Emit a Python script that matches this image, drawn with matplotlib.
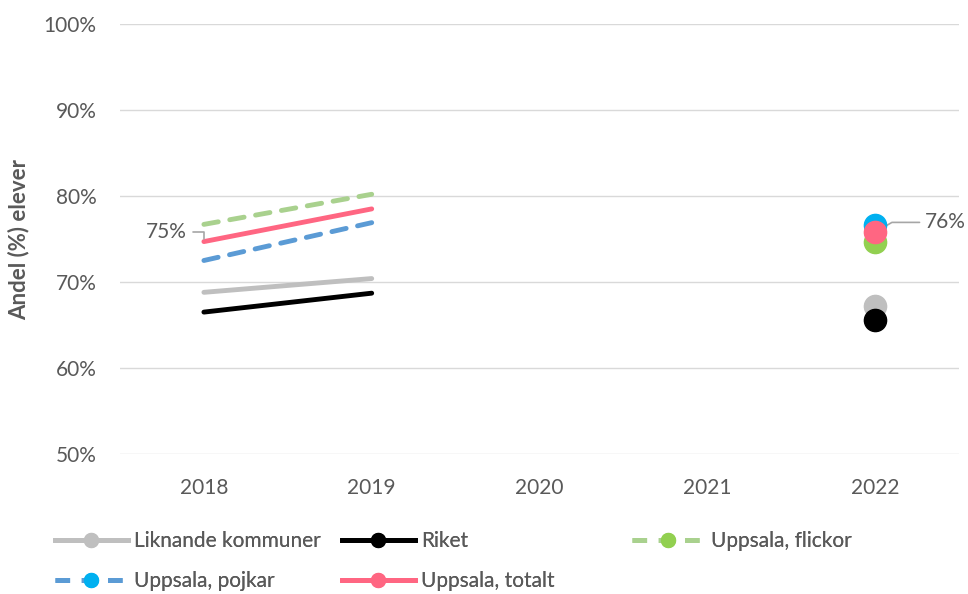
import matplotlib.pyplot as plt
from matplotlib.lines import Line2D

plt.rcParams['font.family'] = ['Lato', 'DejaVu Sans']

years = ['2018', '2019', '2020', '2021', '2022']
series = ['Liknande kommuner', 'Riket', 'Uppsala, flickor', 'Uppsala, pojkar', 'Uppsala, totalt']
early = {  # 2018, 2019
    'Liknande kommuner': [68.8, 70.4],
    'Riket': [66.5, 68.7],
    'Uppsala, flickor': [76.7, 80.2],
    'Uppsala, pojkar': [72.5, 76.9],
    'Uppsala, totalt': [74.7, 78.5],
}
last = {  # 2022
    'Liknande kommuner': 67.2,
    'Riket': 65.6,
    'Uppsala, flickor': 74.6,
    'Uppsala, pojkar': 76.6,
    'Uppsala, totalt': 75.8,
}

line_col = {'Liknande kommuner': '#BFBFBF', 'Riket': '#000000', 'Uppsala, flickor': '#A9D18E',
            'Uppsala, pojkar': '#5B9BD5', 'Uppsala, totalt': '#FF6682'}
mark_col = {'Liknande kommuner': '#BFBFBF', 'Riket': '#000000', 'Uppsala, flickor': '#92D050',
            'Uppsala, pojkar': '#00B0F0', 'Uppsala, totalt': '#FF6682'}
dashed = {'Uppsala, flickor', 'Uppsala, pojkar'}
txt = '#595959'
fs = 15

fig = plt.figure(figsize=(9.68, 5.94), dpi=100)
ax = fig.add_axes([120 / 968, 1 - 454 / 594, 839 / 968, 430 / 594])

x = list(range(len(years)))
handles = {}
draw_order = ['Liknande kommuner', 'Riket', 'Uppsala, pojkar', 'Uppsala, flickor', 'Uppsala, totalt']
for name in draw_order:
    ls = (0, (3.0, 2.4)) if name in dashed else '-'
    ax.plot(x[:2], early[name], color=line_col[name], lw=3.5, ls=ls,
            solid_capstyle='round', dash_capstyle='round', zorder=3)
    ax.plot(x[4], last[name], 'o', color=mark_col[name], ms=16, zorder=4)
    handles[name] = Line2D([], [], color=line_col[name], lw=3.5, ls=ls, marker='o',
                           markersize=10, markerfacecolor=mark_col[name],
                           markeredgecolor=mark_col[name])

ax.set_xlim(-0.5, 4.5)
ax.set_ylim(50, 100)
ax.set_xticks(x)
ax.set_xticklabels(years)
ax.set_yticks(range(50, 101, 10))
ax.set_yticklabels([f'{v}%' for v in range(50, 101, 10)])
ax.grid(axis='y', color='#D9D9D9', lw=1)
ax.set_axisbelow(True)
for s in ax.spines.values():
    s.set_visible(False)
ax.tick_params(length=0, labelsize=fs, colors=txt)
ax.tick_params(axis='x', pad=17)
ax.tick_params(axis='y', pad=17)
ax.set_ylabel('Andel (%) elever', fontsize=fs + 1, fontweight='bold', color=txt, labelpad=10)

# data labels
ax.annotate('75%', xy=(x[0], early['Uppsala, totalt'][0]), xytext=(-12, 7),
            textcoords='offset points', ha='right', va='center', fontsize=fs, color=txt,
            arrowprops=dict(arrowstyle='-', color='#A6A6A6', lw=1.2,
                            connectionstyle='angle,angleA=0,angleB=90,rad=0'))
ax.annotate('76%', xy=(x[4], last['Uppsala, totalt']), xytext=(36, 7),
            textcoords='offset points', ha='left', va='center', fontsize=fs, color=txt,
            arrowprops=dict(arrowstyle='-', color='#A6A6A6', lw=1.2,
                            connectionstyle='angle,angleA=0,angleB=30,rad=0'))

# legend: three columns placed like the original
columns = [(['Liknande kommuner', 'Uppsala, pojkar'], 55),
           (['Riket', 'Uppsala, totalt'], 342),
           (['Uppsala, flickor'], 632)]
for names, px in columns:
    leg = fig.legend([handles[n] for n in names], names, loc='upper left',
                     bbox_to_anchor=(px / 968, 1 - 531 / 594), frameon=False, fontsize=fs,
                     labelcolor=txt, handlelength=3.5, handletextpad=0.3,
                     labelspacing=0.95, borderpad=0, borderaxespad=0)
    fig.add_artist(leg)

fig.savefig('out.png', dpi=100)
